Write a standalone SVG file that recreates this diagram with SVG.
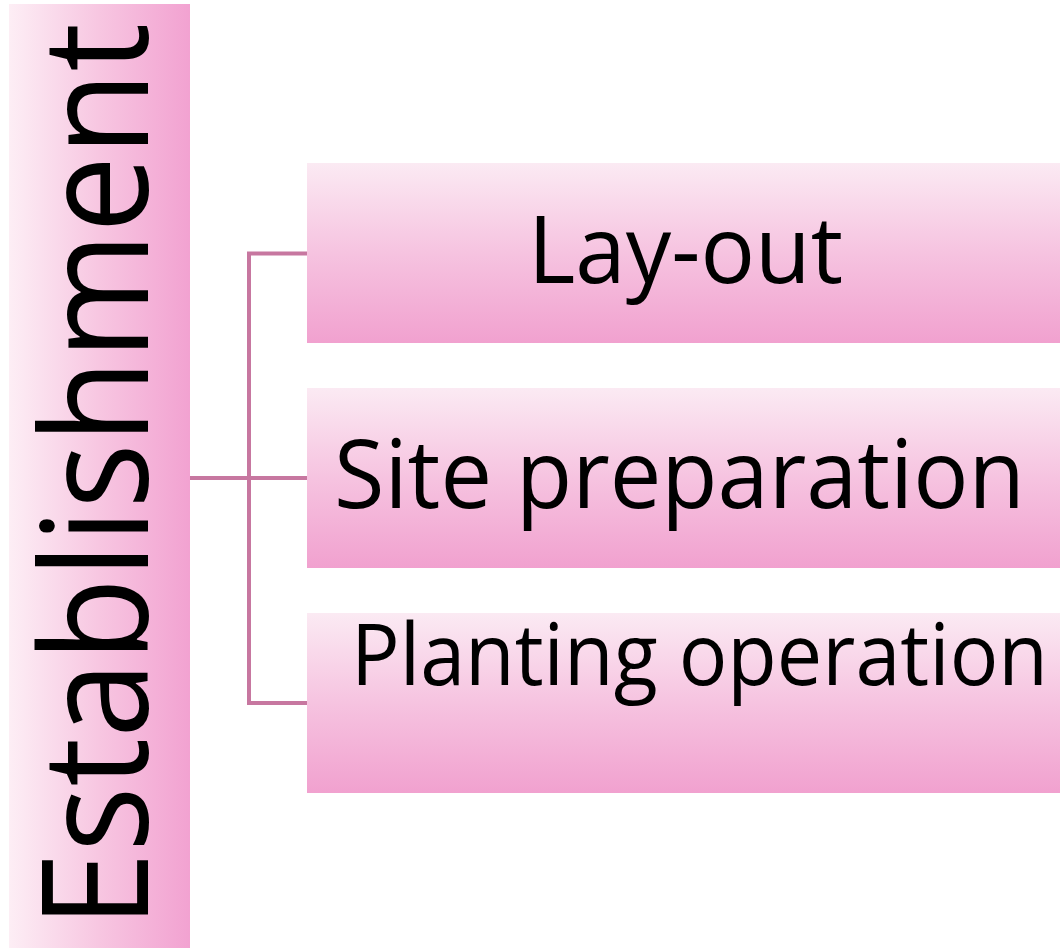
<svg xmlns="http://www.w3.org/2000/svg" width="1060" height="948" viewBox="0 0 1060 948">
  <defs>
    <linearGradient id="barFill" x1="0" y1="0" x2="1" y2="0">
      <stop offset="0" stop-color="#fdeef5"/>
      <stop offset="0.5" stop-color="#f7c6e1"/>
      <stop offset="1" stop-color="#f2a2d1"/>
    </linearGradient>
    <linearGradient id="boxFill" x1="0" y1="0" x2="0" y2="1">
      <stop offset="0" stop-color="#fbeaf3"/>
      <stop offset="0.5" stop-color="#f6c3e0"/>
      <stop offset="1" stop-color="#f1a1cf"/>
    </linearGradient>
    <style>
      .box { fill: url(#boxFill); }
      .label { font-family: "Open Sans", "Liberation Sans", Arial, sans-serif; fill: #000; }
      .link { stroke: #c777a0; stroke-width: 4; fill: none; }
    </style>
  </defs>

  <g id="root">
    <rect x="9" y="4" width="181" height="944" fill="url(#barFill)"/>
    <text class="label" font-size="148" transform="translate(148,928) rotate(-90)" textLength="905" lengthAdjust="spacingAndGlyphs">Establishment</text>
  </g>

  <g id="connectors">
    <line class="link" x1="190" y1="478" x2="307" y2="478"/>
    <polyline class="link" points="307,253.5 249,253.5 249,703 307,703"/>
  </g>

  <g id="layout">
    <rect class="box" x="307" y="163" width="753" height="180"/>
    <text class="label" x="528" y="283" font-size="94" textLength="315" lengthAdjust="spacingAndGlyphs">Lay-out</text>
  </g>

  <g id="site-preparation">
    <rect class="box" x="307" y="388" width="753" height="180"/>
    <text class="label" x="334" y="508" font-size="96" textLength="691" lengthAdjust="spacingAndGlyphs">Site preparation</text>
  </g>

  <g id="planting-operation">
    <rect class="box" x="307" y="613" width="753" height="180"/>
    <text class="label" x="351" y="685" font-size="86" textLength="697" lengthAdjust="spacingAndGlyphs">Planting operation</text>
  </g>
</svg>
